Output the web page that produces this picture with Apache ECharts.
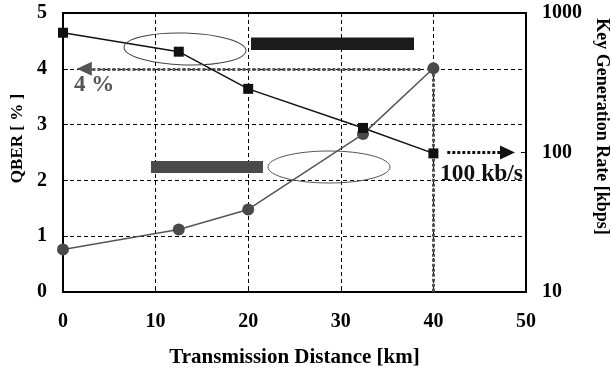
<!DOCTYPE html>
<html>
<head>
<meta charset="utf-8">
<script src="https://cdn.jsdelivr.net/npm/echarts@6/dist/echarts.min.js"></script>
<style>
  html, body { margin: 0; padding: 0; background: #fff; }
  #chart { width: 611px; height: 372px; }
</style>
</head>
<body>
<div id="chart"></div>
<script>
// Transmission distance of each measurement [km]
const distance = [0, 12.5, 20, 32.4, 40];
// Quantum bit error rate [%]
const qber = [0.76, 1.12, 1.48, 2.83, 4.01];
// Sifted key generation rate [kbps]
const keyRate = [722, 528, 286, 150, 98.5];

const xTicks = [0, 10, 20, 30, 40, 50];
const qberTicks = [0, 1, 2, 3, 4, 5];
const rateTicks = [10, 100, 1000];

// Operating point called out on the plot
const maxDistance = 40;
const qberLimit = 4;
const rateLimit = 100;

const SERIF = '"Liberation Serif", "Times New Roman", serif';

const chart = echarts.init(document.getElementById('chart'), null, { renderer: 'canvas' });

const qberPoints = distance.map((d, i) => [d, qber[i]]);
const ratePoints = distance.map((d, i) => [d, keyRate[i]]);

const dotted = [3, 2];
const tickFont = { fontFamily: SERIF, fontWeight: 'bold', fontSize: 20, color: '#000' };

chart.setOption({
  animation: false,
  backgroundColor: '#ffffff',
  grid: {
    left: 63, right: 85, top: 13, bottom: 80,
    outerBoundsMode: 'none',
    containLabel: false,
    show: true, borderColor: '#000', borderWidth: 2, backgroundColor: 'transparent'
  },
  xAxis: {
    type: 'value',
    min: xTicks[0], max: xTicks[xTicks.length - 1], interval: 10,
    name: 'Transmission Distance [km]',
    nameLocation: 'middle', nameGap: 55,
    nameTextStyle: { fontFamily: SERIF, fontWeight: 'bold', fontSize: 21, color: '#000' },
    axisLine: { show: true, onZero: false, lineStyle: { color: '#000', width: 2 } },
    axisTick: { show: true, inside: true, length: 4, lineStyle: { color: '#000' } },
    axisLabel: Object.assign({ margin: 20 }, tickFont),
    splitLine: { show: true, lineStyle: { color: '#000', width: 1, type: [4, 3] } }
  },
  yAxis: [
    {
      type: 'value',
      min: qberTicks[0], max: qberTicks[qberTicks.length - 1], interval: 1,
      name: 'QBER [ % ]',
      nameLocation: 'middle', nameGap: 36,
      nameTextStyle: { fontFamily: SERIF, fontWeight: 'bold', fontSize: 17, color: '#000',
                       padding: [0, 0, 0, 28] },
      axisLine: { show: true, lineStyle: { color: '#000', width: 2 } },
      axisTick: { show: true, inside: true, length: 5, lineStyle: { color: '#000' } },
      axisLabel: Object.assign({ margin: 16 }, tickFont),
      splitLine: { show: true, lineStyle: { color: '#000', width: 1, type: [4, 3] } }
    },
    {
      type: 'log', logBase: 10,
      min: rateTicks[0], max: rateTicks[rateTicks.length - 1],
      position: 'right',
      name: 'Key Generation Rate [kbps]',
      nameLocation: 'middle', nameGap: 66, nameRotate: -90,
      nameTextStyle: { fontFamily: SERIF, fontWeight: 'bold', fontSize: 18, color: '#000',
                       padding: [0, 52, 0, 0] },
      axisLine: { show: true, lineStyle: { color: '#000', width: 2 } },
      axisTick: { show: true, inside: true, length: 5, lineStyle: { color: '#000' } },
      minorTick: { show: false },
      axisLabel: Object.assign({ margin: 16, formatter: v => String(Math.round(v)) }, tickFont),
      splitLine: { show: false }
    }
  ],
  series: [
    {
      name: 'QBER',
      type: 'line',
      yAxisIndex: 0,
      data: qberPoints,
      symbol: 'circle',
      symbolSize: 12,
      lineStyle: { color: '#555', width: 1.5 },
      itemStyle: { color: '#4a4a4a' },
      z: 3,
      markLine: {
        silent: true,
        animation: false,
        label: { show: false },
        lineStyle: { color: '#555', width: 3, type: dotted, cap: 'butt' },
        symbol: ['none', 'triangle'],
        symbolSize: [14, 15],
        data: [
          [{ coord: [maxDistance - 1.4, qberLimit] }, { coord: [2.3, qberLimit] }],
          [{ coord: [maxDistance, qberLimit], symbol: 'none' }, { coord: [maxDistance, 0], symbol: 'none' }]
        ],
        z: 2
      }
    },
    {
      name: 'Key Generation Rate',
      type: 'line',
      yAxisIndex: 1,
      data: ratePoints,
      symbol: 'rect',
      symbolSize: 10,
      lineStyle: { color: '#111', width: 1.5 },
      itemStyle: { color: '#111' },
      z: 4,
      markLine: {
        silent: true,
        animation: false,
        label: { show: false },
        lineStyle: { color: '#111', width: 3, type: dotted, cap: 'butt' },
        symbol: ['none', 'triangle'],
        symbolSize: [14, 15],
        data: [
          [{ coord: [41.5, rateLimit] }, { coord: [48.0, rateLimit] }]
        ]
      }
    }
  ],
  graphic: [
    // ellipse grouping the key-rate curve
    { type: 'ellipse', shape: { cx: 185, cy: 49, rx: 61, ry: 16 }, rotation: -0.03, origin: [185, 49],
      style: { fill: 'none', stroke: '#444', lineWidth: 1 }, z: 10 },
    // ellipse grouping the QBER curve
    { type: 'ellipse', shape: { cx: 329, cy: 167, rx: 61, ry: 16 },
      style: { fill: 'none', stroke: '#555', lineWidth: 1 }, z: 10 },
    // legend blocks
    { type: 'rect', shape: { x: 251, y: 37.5, width: 163, height: 12.5 },
      style: { fill: '#1c1c1c' }, z: 11 },
    { type: 'rect', shape: { x: 151, y: 161, width: 112, height: 12 },
      style: { fill: '#4a4a4a' }, z: 11 },
    // value call-outs
    { type: 'text', x: 94, y: 85, z: 12,
      style: { text: '4 %', fontFamily: SERIF, fontWeight: 'bold', fontSize: 23, fill: '#555',
               align: 'center', verticalAlign: 'middle' } },
    { type: 'text', x: 481.5, y: 174, z: 12,
      style: { text: '100 kb/s', fontFamily: SERIF, fontWeight: 'bold', fontSize: 23.5, fill: '#111',
               align: 'center', verticalAlign: 'middle' } }
  ]
});
</script>
</body>
</html>
